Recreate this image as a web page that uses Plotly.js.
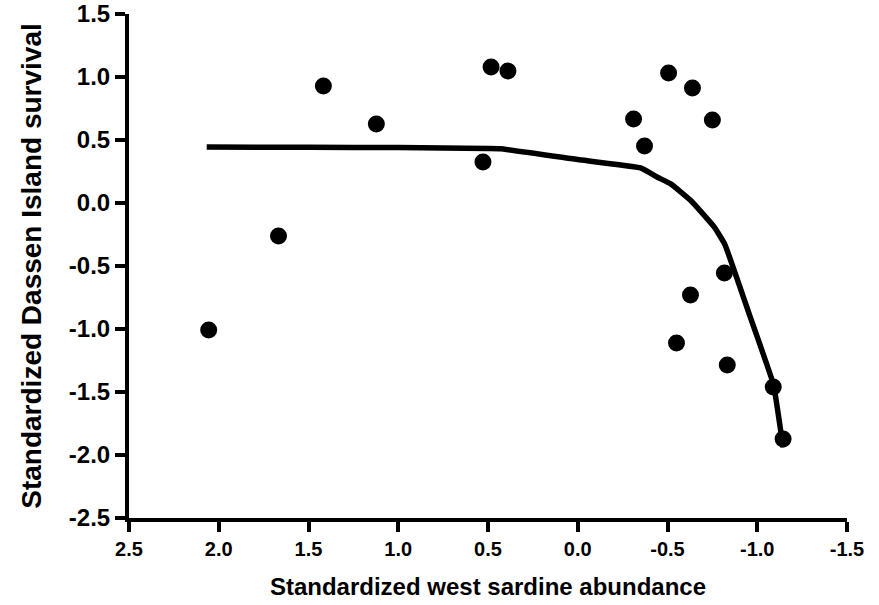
<!DOCTYPE html>
<html>
<head>
<meta charset="utf-8">
<script src="https://cdn.plot.ly/plotly-3.0.1.min.js"></script>
<style>html,body{margin:0;padding:0;background:#fff;}#chart{width:879px;height:605px;}</style>
</head>
<body>
<div id="chart"></div>
<script>
// Observed points (standardized west sardine abundance vs Dassen Island survival)
var sardineX = [2.056, 1.667, 1.417, 1.122, 0.528, 0.483, 0.389, -0.311, -0.372, -0.506, -0.639, -0.750, -0.817, -0.628, -0.550, -0.833, -1.089, -1.144];
var survivalY = [-1.008, -0.262, 0.929, 0.627, 0.325, 1.079, 1.048, 0.667, 0.452, 1.032, 0.913, 0.659, -0.556, -0.730, -1.111, -1.286, -1.460, -1.873];

// Fitted curve
var fitX = [2.067, 1.5, 1.0, 0.5, 0.43, 0.0, -0.35, -0.45, -0.52, -0.63, -0.76, -0.82, -0.95, -1.09, -1.144];
var fitY = [0.444, 0.442, 0.44, 0.432, 0.43, 0.345, 0.278, 0.2, 0.15, 0.02, -0.19, -0.33, -0.86, -1.44, -1.94];

// Tick labels
var xTickVals = [2.5, 2.0, 1.5, 1.0, 0.5, 0.0, -0.5, -1.0, -1.5];
var xTickText = ["2.5", "2.0", "1.5", "1.0", "0.5", "0.0", "-0.5", "-1.0", "-1.5"];
var yTickVals = [1.5, 1.0, 0.5, 0.0, -0.5, -1.0, -1.5, -2.0, -2.5];
var yTickText = ["1.5", "1.0", "0.5", "0.0", "-0.5", "-1.0", "-1.5", "-2.0", "-2.5"];

var font = "Liberation Sans, Arial, sans-serif";

var traces = [
  {
    x: fitX, y: fitY, type: "scatter", mode: "lines",
    line: {color: "#000", width: 5.5, shape: "spline", smoothing: 0.3},
    hoverinfo: "skip"
  },
  {
    x: sardineX, y: survivalY, type: "scatter", mode: "markers",
    marker: {color: "#000", size: 17}
  }
];

var layout = {
  width: 879, height: 605,
  margin: {l: 129, r: 32, t: 14, b: 87, pad: 0},
  paper_bgcolor: "#fff", plot_bgcolor: "#fff",
  showlegend: false,
  font: {family: font, color: "#000"},
  xaxis: {
    range: [2.5, -1.5], autorange: false,
    tickvals: xTickVals, ticktext: xTickText,
    showgrid: false, zeroline: false,
    showline: true, linecolor: "#000", linewidth: 4,
    ticks: "outside", ticklen: 10, tickwidth: 4, tickcolor: "#000",
    tickfont: {family: font, size: 20, color: "#000", weight: "bold"},
    title: {text: "<b>Standardized west sardine abundance</b>", font: {family: font, size: 24, color: "#000"}, standoff: 20}
  },
  yaxis: {
    range: [-2.5, 1.5], autorange: false,
    tickvals: yTickVals, ticktext: yTickText,
    showgrid: false, zeroline: false,
    showline: true, linecolor: "#000", linewidth: 4,
    ticks: "outside", ticklen: 10, tickwidth: 4, tickcolor: "#000",
    tickfont: {family: font, size: 24, color: "#000", weight: "bold"},
    title: {text: "<b>Standardized Dassen Island survival</b>", font: {family: font, size: 28, color: "#000"}, standoff: 20}
  }
};

Plotly.newPlot("chart", traces, layout, {displayModeBar: false, staticPlot: true});
</script>
</body>
</html>
